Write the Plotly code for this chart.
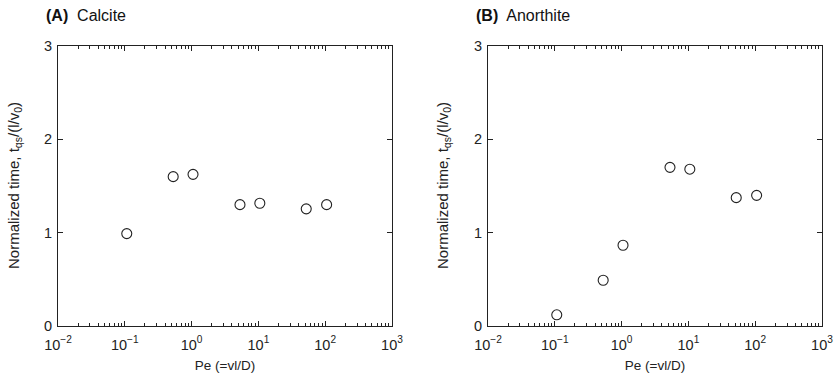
import numpy as np
import plotly.graph_objects as go

# Data
pe_calcite = [0.107, 0.53, 1.05, 5.3, 10.5, 52, 105]
t_calcite = [0.99, 1.60, 1.625, 1.30, 1.315, 1.255, 1.30]
pe_anorthite = [0.107, 0.53, 1.05, 5.3, 10.5, 52, 105]
t_anorthite = [0.12, 0.49, 0.865, 1.70, 1.68, 1.375, 1.40]

x_tickvals = [0.01, 0.1, 1, 10, 100, 1000]
x_ticktext = ["10<sup>−2</sup>", "10<sup>−1</sup>", "10<sup>0</sup>",
              "10<sup>1</sup>", "10<sup>2</sup>", "10<sup>3</sup>"]
y_tickvals = [0, 1, 2, 3]
panel_labels = ["<b>(A)</b>  Calcite", "<b>(B)</b>  Anorthite"]
x_title = "Pe (=vl/D)"
y_title = "Normalized time, t<sub>qs</sub>/(l/v<sub>0</sub>)"

W, H = 834, 381
L, R, T, B = 0, 0, 46, 55
dom1 = [58 / W, 392 / W]
dom2 = [488 / W, 822 / W]

minor_vals = [m * 10 ** e for e in range(-2, 3) for m in range(2, 10)]

FONT = "Liberation Sans, Arial, Helvetica, sans-serif"
AX = "#222222"

fig = go.Figure()
marker = dict(symbol="circle-open", size=10, color="#222222", line=dict(width=1.1, color="#222222"))
fig.add_trace(go.Scatter(x=pe_calcite, y=t_calcite, mode="markers", marker=marker,
                         xaxis="x", yaxis="y", showlegend=False))
fig.add_trace(go.Scatter(x=pe_anorthite, y=t_anorthite, mode="markers", marker=marker,
                         xaxis="x2", yaxis="y2", showlegend=False))

def xaxis(domain, anchor):
    return dict(domain=domain, anchor=anchor, type="log", range=[-2, 3],
                automargin=False,
                tickvals=x_tickvals, ticktext=x_ticktext,
                ticks="inside", ticklen=5, tickwidth=1, tickcolor=AX,
                ticklabelstandoff=5,
                minor=dict(tickvals=minor_vals, ticks="inside", ticklen=3,
                           tickwidth=1, tickcolor=AX, showgrid=False),
                showline=True, linecolor=AX, linewidth=1.2, mirror="ticks",
                showgrid=False, zeroline=False,
                tickfont=dict(family=FONT, size=14.5, color="#222"),
                title=dict(text=x_title, font=dict(family=FONT, size=13.5, color="#222"), standoff=9))

def yaxis(anchor):
    return dict(domain=[0, 1], anchor=anchor, range=[0, 3], automargin=False,
                tickvals=y_tickvals, ticks="inside", ticklen=5, tickwidth=1, tickcolor=AX,
                ticklabelstandoff=2,
                showline=True, linecolor=AX, linewidth=1.2, mirror="ticks",
                showgrid=False, zeroline=False,
                tickfont=dict(family=FONT, size=14.5, color="#222"))

fig.update_layout(
    width=W, height=H,
    margin=dict(l=L, r=R, t=T, b=B),
    paper_bgcolor="white", plot_bgcolor="white",
    font=dict(family=FONT, color="#222"),
    xaxis=xaxis(dom1, "y"),
    yaxis=yaxis("x"),
    xaxis2=xaxis(dom2, "y2"),
    yaxis2=yaxis("x2"),
)

ann = []
for i, (xl, lab) in enumerate([(44, panel_labels[0]), (474, panel_labels[1])]):
    ann.append(dict(text=lab, xref="paper", yref="paper",
                    x=(xl - L) / (W - L - R), y=(H - B - 16) / (H - T - B),
                    xanchor="left", yanchor="middle", showarrow=False,
                    font=dict(family=FONT, size=16, color="#111")))
for xc in [14, 443]:
    ann.append(dict(text=y_title, xref="paper", yref="paper",
                    x=xc / W, y=(H - B - 186) / (H - T - B), xanchor="center", yanchor="middle",
                    textangle=-90, showarrow=False,
                    font=dict(family=FONT, size=15, color="#222")))
fig.update_layout(annotations=ann)

fig.write_html("out.html", config={"displayModeBar": False},
               post_script="document.body.style.margin='0';document.body.style.padding='0';")
